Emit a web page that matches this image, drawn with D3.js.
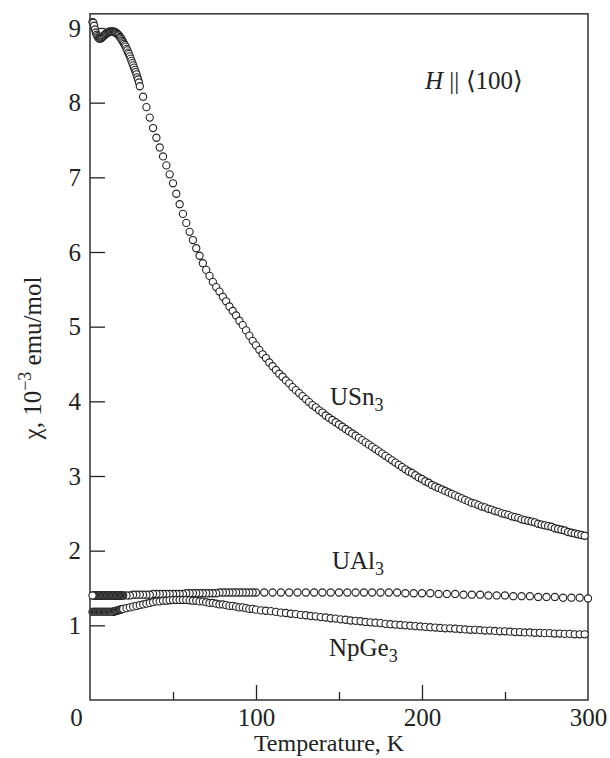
<!DOCTYPE html>
<html>
<head>
<meta charset="utf-8">
<script src="https://cdn.jsdelivr.net/npm/d3@7"></script>
<style>
  body { margin: 0; background: #fff; }
  text { font-family: "Liberation Serif", "Times New Roman", serif; fill: #222; }
</style>
</head>
<body>
<div id="chart"></div>
<script>
// Susceptibility vs temperature, H || <100>

// each series is stored as segments: start temperature, step, values (10^-3 emu/mol)
const usn3Low = [9.08, 9.07, 9.03, 8.98, 8.94, 8.91, 8.89, 8.87, 8.86, 8.86, 8.86,
  8.87, 8.88, 8.89, 8.90, 8.91, 8.92, 8.93, 8.94, 8.94, 8.95,
  8.95, 8.95, 8.95, 8.95, 8.95, 8.95, 8.94, 8.94, 8.93, 8.92,
  8.91, 8.90, 8.88, 8.87, 8.85, 8.83, 8.81, 8.79, 8.77, 8.75,
  8.72, 8.70, 8.67, 8.65, 8.62, 8.59, 8.56, 8.53, 8.50, 8.47,
  8.44, 8.41, 8.38, 8.34, 8.31, 8.27];
const usn3High = [8.22, 8.08, 7.94, 7.80, 7.66, 7.53, 7.40, 7.28, 7.16, 7.04,
  6.92, 6.78, 6.64, 6.51, 6.39, 6.27, 6.16, 6.05, 5.95, 5.85,
  5.76, 5.68, 5.60, 5.53, 5.47, 5.40, 5.34, 5.27, 5.21, 5.15,
  5.08, 5.02, 4.95, 4.88, 4.81, 4.75, 4.69, 4.63, 4.58, 4.52,
  4.47, 4.42, 4.37, 4.33, 4.28, 4.24, 4.19, 4.15, 4.11, 4.07,
  4.03, 3.99, 3.95, 3.92, 3.88, 3.85, 3.81, 3.78, 3.75, 3.72,
  3.69, 3.66, 3.63, 3.60, 3.57, 3.54, 3.51, 3.48, 3.45, 3.42,
  3.39, 3.36, 3.33, 3.30, 3.27, 3.24, 3.21, 3.18, 3.15, 3.12,
  3.09, 3.06, 3.04, 3.01, 2.98, 2.96, 2.93, 2.91, 2.88, 2.86,
  2.84, 2.82, 2.80, 2.78, 2.76, 2.74, 2.72, 2.70, 2.68, 2.66,
  2.64, 2.63, 2.61, 2.59, 2.58, 2.56, 2.55, 2.53, 2.52, 2.50,
  2.49, 2.48, 2.46, 2.45, 2.44, 2.42, 2.41, 2.40, 2.39, 2.38,
  2.36, 2.35, 2.34, 2.33, 2.32, 2.30, 2.29, 2.28, 2.27, 2.25,
  2.24, 2.23, 2.22, 2.21, 2.20];

const ual3Low = [1.40, 1.40, 1.40, 1.40, 1.40, 1.40, 1.40, 1.40, 1.40, 1.40,
  1.40, 1.40, 1.40, 1.40, 1.40, 1.40, 1.40, 1.40, 1.40, 1.40,
  1.40, 1.40, 1.40, 1.40, 1.40, 1.40, 1.40, 1.40, 1.40, 1.40,
  1.40, 1.40, 1.40, 1.40, 1.40, 1.40, 1.40];
const ual3Mid = [1.40, 1.40, 1.40, 1.41, 1.41, 1.41, 1.41, 1.41, 1.41, 1.42,
  1.42, 1.42, 1.42, 1.42, 1.42, 1.42, 1.42, 1.42, 1.42, 1.43,
  1.43, 1.43, 1.43, 1.43, 1.43, 1.43, 1.43, 1.43, 1.43, 1.44,
  1.44, 1.44, 1.44, 1.44, 1.44, 1.44, 1.44, 1.44, 1.44, 1.44,
  1.44];
const ual3High = [1.44, 1.44, 1.44, 1.44, 1.44, 1.44, 1.44, 1.44, 1.44, 1.44,
  1.44, 1.44, 1.44, 1.44, 1.44, 1.44, 1.44, 1.43, 1.43, 1.43,
  1.43, 1.42, 1.42, 1.42, 1.41, 1.41, 1.41, 1.40, 1.40, 1.40,
  1.39, 1.39, 1.39, 1.38, 1.38, 1.38, 1.37, 1.37, 1.37, 1.36];

const npge3Low = [1.18, 1.18, 1.18, 1.18, 1.18, 1.18, 1.18, 1.18, 1.18, 1.18,
  1.18, 1.18, 1.18, 1.18, 1.18, 1.18, 1.18, 1.18, 1.18, 1.18,
  1.18, 1.18, 1.18, 1.18, 1.18, 1.18, 1.185, 1.19, 1.19, 1.195,
  1.20, 1.20, 1.205, 1.21, 1.21, 1.215, 1.22];
const npge3Mid = [1.22, 1.23, 1.24, 1.25, 1.26, 1.27, 1.28, 1.29, 1.30, 1.31,
  1.32, 1.32, 1.33, 1.33, 1.335, 1.34, 1.34, 1.34, 1.34, 1.34,
  1.335, 1.33, 1.33, 1.32, 1.32, 1.31, 1.30, 1.30, 1.29, 1.28,
  1.28, 1.27, 1.26, 1.26, 1.25, 1.24, 1.24, 1.23, 1.22, 1.22,
  1.21];
const npge3High = [1.20, 1.195, 1.19, 1.18, 1.17, 1.165, 1.155, 1.15, 1.14, 1.135,
  1.125, 1.12, 1.11, 1.105, 1.095, 1.09, 1.08, 1.075, 1.065, 1.06,
  1.055, 1.045, 1.04, 1.035, 1.03, 1.02, 1.015, 1.01, 1.005, 1.00,
  0.995, 0.99, 0.985, 0.98, 0.975, 0.97, 0.965, 0.96, 0.96, 0.955,
  0.95, 0.945, 0.94, 0.94, 0.935, 0.93, 0.93, 0.925, 0.92, 0.92,
  0.915, 0.91, 0.91, 0.905, 0.905, 0.90, 0.90, 0.895, 0.895, 0.89,
  0.89, 0.885, 0.885, 0.88, 0.88, 0.88];

const series = [
  { name: "UAl3", reverse: true, segs: [[1.5, 0.5, ual3Low], [20, 2, ual3Mid], [105, 5, ual3High]] },
  { name: "NpGe3", reverse: false, segs: [[1.5, 0.5, npge3Low], [20, 2, npge3Mid], [103, 3, npge3High]] },
  { name: "USn3", reverse: false, segs: [[1.5, 0.5, usn3Low], [30, 2, usn3High]] }
];

const xMajor = [100, 200];
const xMinor = [50, 150, 250];
const xLabels = [0, 100, 200, 300];
const yTicks = [1, 2, 3, 4, 5, 6, 7, 8, 9];

const width = 610, height = 758;
const svg = d3.select("#chart").append("svg")
  .attr("width", width)
  .attr("height", height);

const x = d3.scaleLinear().domain([0, 300]).range([90, 588]);
const y = d3.scaleLinear().domain([0, 9]).range([700, 28]);
const yTop = 9.19;

// ticks (inward)
svg.append("g")
  .attr("transform", "translate(0,700)")
  .call(d3.axisBottom(x).tickValues(xMajor).tickSize(-15).tickFormat(""))
  .call(g => g.select(".domain").remove())
  .call(g => g.selectAll("line").attr("stroke", "#222").attr("stroke-width", 1.3));
svg.append("g")
  .attr("transform", "translate(0,700)")
  .call(d3.axisBottom(x).tickValues(xMinor).tickSize(-8).tickFormat(""))
  .call(g => g.select(".domain").remove())
  .call(g => g.selectAll("line").attr("stroke", "#222").attr("stroke-width", 1.3));

// x labels
svg.append("g")
  .attr("transform", "translate(0,700)")
  .call(d3.axisBottom(x).tickValues(xLabels).tickSize(0).tickPadding(8))
  .call(g => g.select(".domain").remove())
  .call(g => g.selectAll("text")
    .attr("font-family", "Liberation Serif")
    .attr("font-size", 25)
    .attr("fill", "#222")
    .attr("dx", d => d === 0 ? -14 : 0));

svg.append("g")
  .attr("transform", "translate(90,0)")
  .call(d3.axisLeft(y).tickValues(yTicks).tickSize(-15).tickPadding(9))
  .call(g => g.select(".domain").remove())
  .call(g => g.selectAll("line").attr("stroke", "#222").attr("stroke-width", 1.3))
  .call(g => g.selectAll("text")
    .attr("font-family", "Liberation Serif")
    .attr("font-size", 25)
    .attr("fill", "#222"));

// frame
svg.append("rect")
  .attr("x", x(0))
  .attr("y", y(yTop))
  .attr("width", x(300) - x(0))
  .attr("height", y(0) - y(yTop))
  .attr("fill", "none")
  .attr("stroke", "#333")
  .attr("stroke-width", 1.5);

// data markers
series.forEach(s => {
  let pts = [];
  s.segs.forEach(([t0, dt, vals]) => {
    vals.forEach((v, i) => pts.push({ t: t0 + i * dt, v: v }));
  });
  if (s.reverse) pts.reverse();
  svg.append("g")
    .selectAll("circle")
    .data(pts)
    .join("circle")
    .attr("cx", d => x(d.t))
    .attr("cy", d => y(d.v))
    .attr("r", 3.6)
    .attr("fill", "#fff")
    .attr("stroke", "#222")
    .attr("stroke-width", 1.1);
});

// curve labels
function chemLabel(xp, yp, base, sub) {
  const t = svg.append("text")
    .attr("x", xp)
    .attr("y", yp)
    .attr("font-size", 25);
  t.append("tspan").text(base);
  t.append("tspan").attr("font-size", 18).attr("dy", 6).text(sub);
}
chemLabel(330, 405, "USn", "3");
chemLabel(332, 569, "UAl", "3");
chemLabel(329, 656, "NpGe", "3");

// field direction
const hLab = svg.append("text")
  .attr("x", 425)
  .attr("y", 89)
  .attr("font-size", 25);
hLab.append("tspan").attr("font-style", "italic").text("H");
hLab.append("tspan").text(" || \u27E8100\u27E9");

// axis titles
svg.append("text")
  .attr("x", 329)
  .attr("y", 751)
  .attr("text-anchor", "middle")
  .attr("font-size", 24)
  .text("Temperature, K");

const yLab = svg.append("text")
  .attr("transform", "translate(41,358) rotate(-90)")
  .attr("text-anchor", "middle")
  .attr("font-size", 25);
yLab.append("tspan").text("\u03C7, 10");
yLab.append("tspan").attr("font-size", 18).attr("dy", -10).text("\u22123");
yLab.append("tspan").attr("dy", 10).text(" emu/mol");
</script>
</body>
</html>
